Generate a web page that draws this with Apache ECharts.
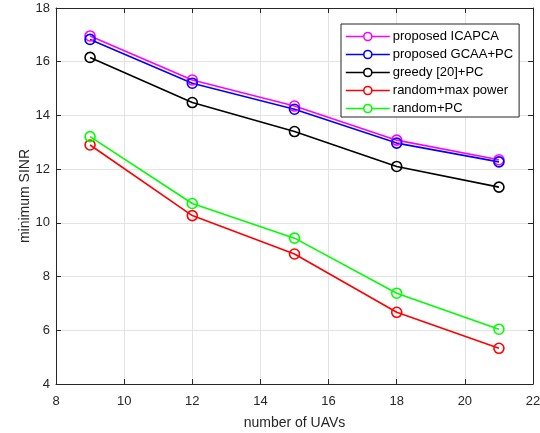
<!DOCTYPE html>
<html>
<head>
<meta charset="utf-8">
<script src="https://cdn.jsdelivr.net/npm/echarts@6/dist/echarts.min.js"></script>
<style>
html,body{margin:0;padding:0;background:#fff;}
#chart{width:540px;height:433px;}
</style>
</head>
<body>
<div id="chart"></div>
<script>
const xValues = [9, 12, 15, 18, 21];
const seriesNames = ['proposed ICAPCA', 'proposed GCAA+PC', 'greedy [20]+PC', 'random+max power', 'random+PC'];
const icapca = [16.96, 15.32, 14.35, 13.08, 12.35];
const gcaa = [16.83, 15.2, 14.23, 12.97, 12.27];
const greedy = [16.16, 14.48, 13.4, 12.1, 11.33];
const randomMax = [12.9, 10.27, 8.84, 6.67, 5.33];
const randomPC = [13.21, 10.72, 9.43, 7.38, 6.04];
const colors = ['#ff00ff', '#0000ff', '#000000', '#ff0000', '#00ff00'];
const allData = [icapca, gcaa, greedy, randomMax, randomPC];

const chart = echarts.init(document.getElementById('chart'), null, {renderer: 'canvas'});
const font = 'Liberation Sans, Arial, Helvetica, sans-serif';
const axisCol = '#262626';

const series = seriesNames.map((n, i) => ({
  name: n,
  type: 'line',
  xAxisIndex: 0,
  yAxisIndex: 0,
  data: xValues.map((x, j) => [x, allData[i][j]]),
  symbol: 'circle',
  symbolSize: 10,
  showSymbol: true,
  itemStyle: {color: 'rgba(255,255,255,0)', borderColor: colors[i], borderWidth: 1.6},
  lineStyle: {color: colors[i], width: 1.6},
  emphasis: {disabled: true},
  animation: false
}));

chart.setOption({
  animation: false,
  grid: {left: 56, right: 7, top: 8, bottom: 49, containLabel: false, outerBoundsMode: 'none'},
  legend: {
    orient: 'vertical',
    left: 341,
    top: 24,
    width: 178,
    itemWidth: 44,
    itemHeight: 10,
    itemGap: 5,
    padding: [6, 6, 2, 4],
    borderColor: '#262626',
    borderWidth: 1,
    backgroundColor: '#ffffff',
    textStyle: {fontFamily: font, fontSize: 13, color: '#000', padding: [0, 0, 0, -2]},
    data: seriesNames.map((n, i) => ({name: n, itemStyle: {color: '#fff', borderColor: colors[i], borderWidth: 1.6}, lineStyle: {color: colors[i], width: 1.6}}))
  },
  xAxis: [{
    type: 'value', min: 8, max: 22, interval: 2,
    position: 'bottom',
    name: 'number of UAVs', nameLocation: 'middle', nameGap: 32,
    nameTextStyle: {fontFamily: font, fontSize: 14, color: axisCol},
    axisLine: {show: true, onZero: false, lineStyle: {color: axisCol, width: 1}},
    axisTick: {show: true, inside: true, length: 5, lineStyle: {color: axisCol}},
    axisLabel: {fontFamily: font, fontSize: 13, color: axisCol, margin: 11},
    splitLine: {show: true, lineStyle: {color: '#e3e3e3', width: 1}}
  }, {
    type: 'value', min: 8, max: 22, interval: 2,
    position: 'top',
    axisLine: {show: true, onZero: false, lineStyle: {color: axisCol, width: 1}},
    axisTick: {show: true, inside: true, length: 5, lineStyle: {color: axisCol}},
    axisLabel: {show: false},
    splitLine: {show: false}
  }],
  yAxis: [{
    type: 'value', min: 4, max: 18, interval: 2,
    position: 'left',
    name: 'minimum SINR', nameLocation: 'middle', nameGap: 24, nameMoveOverlap: false,
    nameTextStyle: {fontFamily: font, fontSize: 14, color: axisCol},
    axisLine: {show: true, onZero: false, lineStyle: {color: axisCol, width: 1}},
    axisTick: {show: true, inside: true, length: 5, lineStyle: {color: axisCol}},
    axisLabel: {fontFamily: font, fontSize: 13, color: axisCol, margin: 6},
    splitLine: {show: true, lineStyle: {color: '#e3e3e3', width: 1}}
  }, {
    type: 'value', min: 4, max: 18, interval: 2,
    position: 'right',
    axisLine: {show: true, onZero: false, lineStyle: {color: axisCol, width: 1}},
    axisTick: {show: true, inside: true, length: 5, lineStyle: {color: axisCol}},
    axisLabel: {show: false},
    splitLine: {show: false}
  }],
  series: series
});
</script>
</body>
</html>
